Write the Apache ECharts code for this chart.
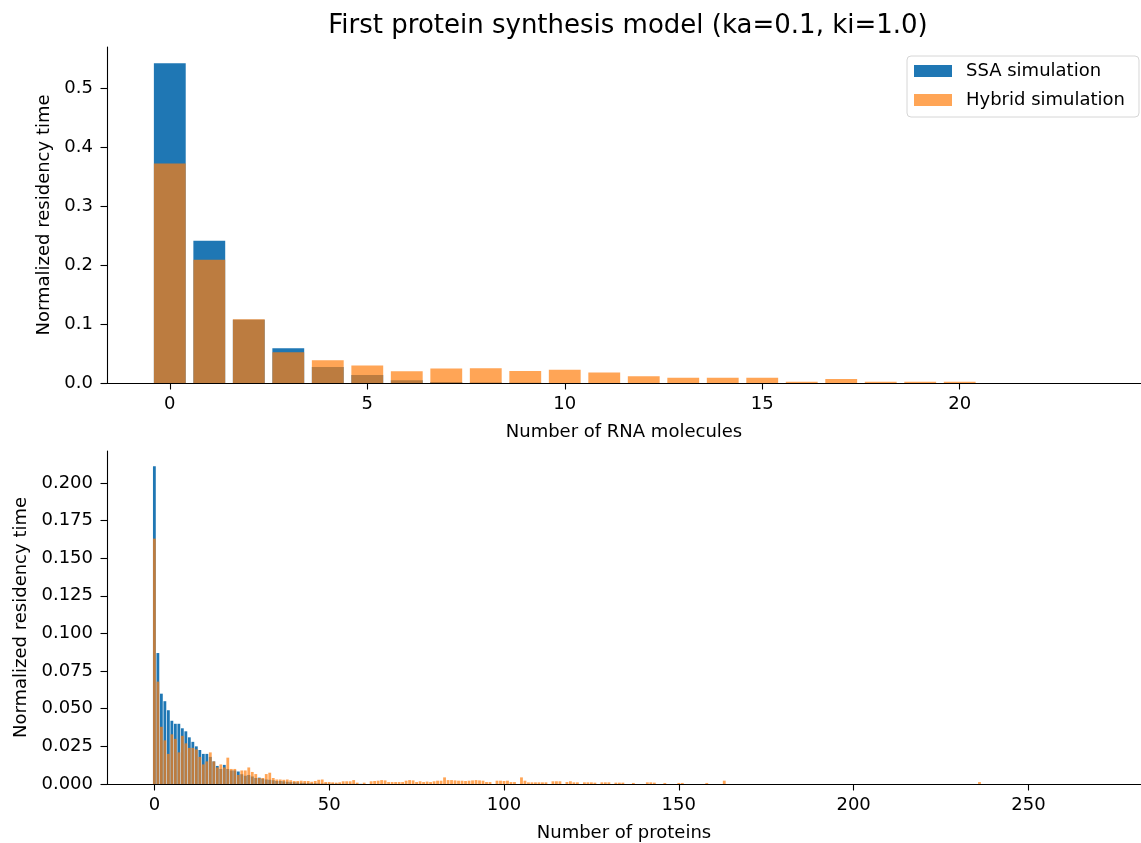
<!DOCTYPE html>
<html><head><meta charset="utf-8">
<script src="https://cdn.jsdelivr.net/npm/echarts@6/dist/echarts.min.js"></script>
<style>html,body{margin:0;padding:0;background:#fff}#c{width:1141px;height:843px}</style>
</head><body><div id="c"></div>
<script>
// ---------- data ----------
const titleText = 'First protein synthesis model (ka=0.1, ki=1.0)';
const seriesNames = ['SSA simulation', 'Hybrid simulation'];

// RNA molecules: index = number of RNA molecules
const rnaSSA = [0.542, 0.241, 0.107, 0.059, 0.027, 0.0136, 0.0046, 0.0017, 0.0008, 0.0004, 0.0002, 0.0001];
const rnaHybrid = [0.372, 0.209, 0.108, 0.052, 0.0385, 0.0295, 0.020, 0.0247, 0.0249, 0.0203,
  0.0226, 0.018, 0.0113, 0.009, 0.009, 0.009, 0.0023, 0.0068, 0.0023, 0.0023, 0.0023];

// Proteins: index = number of proteins
const proteinSSA = [
  0.211, 0.087, 0.060, 0.055, 0.049, 0.042, 0.040, 0.040, 0.037, 0.035,
  0.031, 0.028, 0.025, 0.0226, 0.020, 0.020, 0.018, 0.015, 0.012, 0.010,
  0.0127, 0.010, 0.009, 0.009, 0.0083, 0.0065, 0.0055, 0.006, 0.005, 0.004,
  0.0042, 0.0035, 0.003, 0.0028, 0.0025, 0.002, 0.002, 0.0018, 0.0015, 0.0012,
  0.0012, 0.001, 0.0008, 0.0008, 0.0006, 0.0005, 0.0005, 0.0004, 0.0003, 0.0003,
  0.0002, 0.0002, 0.0002, 0.0001, 0.0001, 0.0001, 0.0001, 0.0001, 0.0001, 0.0001];
const proteinHybrid = [
  0.163, 0.068, 0.038, 0.029, 0.020, 0.033, 0.030, 0.021, 0.032, 0.027,
  0.024, 0.024, 0.023, 0.018, 0.013, 0.015, 0.021, 0.015, 0.011, 0.013,
  0.011, 0.0175, 0.010, 0.010, 0.006, 0.009, 0.009, 0.011, 0.008, 0.0066,
  0.004, 0.004, 0.0066, 0.0075, 0.004, 0.003, 0.003, 0.0028, 0.003, 0.0025,
  0.002, 0.002, 0.0022, 0.002, 0.002, 0.0015, 0.002, 0.0028, 0.003, 0.0013,
  0.0013, 0.0011, 0.0009, 0.0011, 0.0018, 0.0018, 0.0018, 0.0026, 0.0009, 0,
  0.0009, 0, 0.0018, 0.002, 0.0022, 0.0026, 0.0024, 0.0013, 0.0013, 0.0013,
  0.0013, 0.0013, 0.0022, 0.0026, 0.0024, 0.0013, 0.0018, 0.0013, 0.0016, 0.0013,
  0.0018, 0.0022, 0.0022, 0.0044, 0.0026, 0.0026, 0.0024, 0.0022, 0.0022, 0.002,
  0.0022, 0.0024, 0.0026, 0.0024, 0.0022, 0.0013, 0.0013, 0, 0.0022, 0.0022,
  0.002, 0.0022, 0.0013, 0.0013, 0, 0.0044, 0.0022, 0.0011, 0.0011, 0.0011,
  0.0011, 0.0011, 0.0011, 0, 0.0018, 0.0018, 0.0018, 0, 0.0013, 0.0018,
  0.0011, 0.0011, 0, 0.0011, 0.0011, 0.0011, 0.0009, 0, 0.0011, 0.0011,
  0.0011, 0, 0.0009, 0.0009, 0.0009, 0, 0, 0.0007, 0, 0,
  0, 0.0011, 0.0011, 0.0009, 0, 0, 0.0007, 0, 0, 0,
  0.0007, 0.0007, 0, 0, 0, 0, 0, 0, 0.0007, 0,
  0, 0, 0, 0.0022];
const proteinHybridExtraCounts = [236];
const proteinHybridExtraValues = [0.0013];

const rnaXTicks = [0, 5, 10, 15, 20];
const rnaYTicks = [0, 0.1, 0.2, 0.3, 0.4, 0.5];
const proteinXTicks = [0, 50, 100, 150, 200, 250];
const proteinYTicks = [0, 0.025, 0.05, 0.075, 0.1, 0.125, 0.15, 0.175, 0.2];

// ---------- layout / style ----------
const FONT = 'DejaVu Sans';
const FS = 18;
const BLUE = '#1f77b4';
const ORANGE = 'rgba(255,127,14,0.7)';
const GL = 107, GW = 1042, GH = 336;
const rnaRange = [-1.59, 24.59];
const protRange = [-13.55, 282.2];
const rnaYMax = 0.5695, protYMax = 0.2212;
const bw1 = 0.8 * GW / (rnaRange[1] - rnaRange[0]);
const bw2 = 0.8 * GW / (protRange[1] - protRange[0]);

const pairs = arr => arr.map((v, i) => [i, v]);

function xAxis(gi, range, ticks, name) {
  return {
    type: 'value', gridIndex: gi, min: range[0], max: range[1],
    name: name, nameLocation: 'middle', nameGap: 40,
    nameTextStyle: { fontFamily: FONT, fontSize: FS, color: '#000' },
    axisLine: { show: true, onZero: false, lineStyle: { color: '#000', width: 1.1 } },
    axisTick: { show: true, length: 6.5, customValues: ticks, lineStyle: { color: '#000', width: 1.1 } },
    axisLabel: { fontFamily: FONT, fontSize: FS, color: '#000', margin: 12, customValues: ticks },
    splitLine: { show: false }
  };
}
function yAxis(gi, max, ticks, dec, gap) {
  return {
    type: 'value', gridIndex: gi, min: 0, max: max,
    name: 'Normalized residency time', nameLocation: 'middle', nameGap: gap, nameRotate: 90,
    nameTextStyle: { fontFamily: FONT, fontSize: FS, color: '#000' },
    axisLine: { show: true, onZero: false, lineStyle: { color: '#000', width: 1.1 } },
    axisTick: { show: true, length: 6.5, customValues: ticks, lineStyle: { color: '#000', width: 1.1 } },
    axisLabel: { fontFamily: FONT, fontSize: FS, color: '#000', margin: 14, customValues: ticks,
      formatter: v => v.toFixed(dec) },
    splitLine: { show: false }
  };
}

const option = {
  animation: false,
  backgroundColor: '#fff',
  textStyle: { fontFamily: FONT },
  graphic: [{
    type: 'text', x: GL + GW / 2, y: 26,
    style: { text: titleText, fontFamily: FONT, fontSize: 26, fill: '#000',
      textAlign: 'center', textVerticalAlign: 'middle' }
  }],
  legend: {
    orient: 'vertical', left: 907, top: 56,
    data: seriesNames,
    icon: 'rect', itemWidth: 38, itemHeight: 12, itemGap: 11,
    padding: [6, 14, 8, 7],
    borderColor: '#d6d6d6', borderWidth: 1, borderRadius: 4,
    backgroundColor: 'rgba(255,255,255,0.8)',
    textStyle: { fontFamily: FONT, fontSize: FS, color: '#000', padding: [0, 0, 0, 9] }
  },
  grid: [
    { left: GL, top: 47, width: GW, height: GH },
    { left: GL, top: 451, width: GW, height: GH }
  ],
  xAxis: [
    xAxis(0, rnaRange, rnaXTicks, 'Number of RNA molecules'),
    xAxis(1, protRange, proteinXTicks, 'Number of proteins')
  ],
  yAxis: [
    yAxis(0, rnaYMax, rnaYTicks, 1, 52),
    yAxis(1, protYMax, proteinYTicks, 3, 76)
  ],
  series: [
    { name: seriesNames[0], type: 'bar', xAxisIndex: 0, yAxisIndex: 0, barWidth: bw1, barGap: '-100%',
      itemStyle: { color: BLUE }, data: pairs(rnaSSA) },
    { name: seriesNames[1], type: 'bar', xAxisIndex: 0, yAxisIndex: 0, barWidth: bw1, barGap: '-100%',
      itemStyle: { color: ORANGE }, data: pairs(rnaHybrid) },
    { name: seriesNames[0], type: 'bar', xAxisIndex: 1, yAxisIndex: 1, barWidth: bw2, barGap: '-100%',
      itemStyle: { color: BLUE }, data: pairs(proteinSSA) },
    { name: seriesNames[1], type: 'bar', xAxisIndex: 1, yAxisIndex: 1, barWidth: bw2, barGap: '-100%',
      itemStyle: { color: ORANGE },
      data: pairs(proteinHybrid).concat(proteinHybridExtraCounts.map((c, i) => [c, proteinHybridExtraValues[i]])) }
  ]
};
const chart = echarts.init(document.getElementById('c'), null, { renderer: 'canvas' });
chart.setOption(option);
</script>
</body></html>
